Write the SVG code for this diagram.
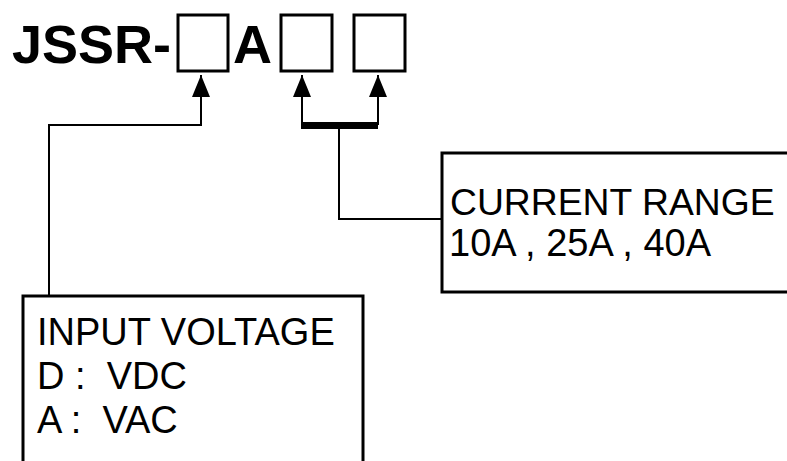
<svg xmlns="http://www.w3.org/2000/svg" width="787" height="461" viewBox="0 0 787 461">
  <style>
    .box { fill: #ffffff; stroke: #000000; stroke-width: 3; }
    .slot { fill: none; stroke: #000000; stroke-width: 3; }
    .wire { fill: none; stroke: #000000; stroke-width: 2; }
    .title { font-family: "Liberation Sans", Arial, sans-serif; font-weight: bold; font-size: 54px; fill: #000000; }
    .label { font-family: "Liberation Sans", Arial, sans-serif; font-size: 38px; fill: #000000; white-space: pre; }
  </style>
  <defs>
    <marker id="arrow" viewBox="0 0 22 18" refX="22" refY="9" markerWidth="22" markerHeight="18" markerUnits="userSpaceOnUse" orient="auto">
      <path d="M0,0 L22,9 L0,18 Z" fill="#000000"/>
    </marker>
  </defs>
  <rect width="787" height="461" fill="#ffffff"/>
  <g id="title">
    <text class="title" x="12" y="63">JSSR-</text>
    <rect class="slot" x="178" y="15" width="50" height="56"/>
    <text class="title" x="233" y="63">A</text>
    <rect class="slot" x="281" y="15" width="51" height="56"/>
    <rect class="slot" x="354" y="15" width="51" height="56"/>
  </g>
  <g id="connectors">
    <path class="wire" d="M49,296 L49,125 L201,125 L201,75" marker-end="url(#arrow)"/>
    <path class="wire" d="M302,125 L302,75" marker-end="url(#arrow)"/>
    <path class="wire" d="M378,125 L378,75" marker-end="url(#arrow)"/>
    <rect x="301" y="122" width="77" height="7" fill="#000000"/>
    <path class="wire" d="M339,129 L339,219 L442,219"/>
  </g>
  <g id="current-range">
    <rect class="box" x="442" y="153" width="360" height="139"/>
    <text class="label" x="450" y="215" style="font-size:37.3px">CURRENT RANGE</text>
    <text class="label" x="449" y="256">10A , 25A , 40A</text>
  </g>
  <g id="input-voltage">
    <rect class="box" x="23" y="296" width="340" height="180"/>
    <text class="label" x="37" y="345">INPUT VOLTAGE</text>
    <text class="label" x="37" y="389">D :  VDC</text>
    <text class="label" x="37" y="433">A :  VAC</text>
  </g>
</svg>
